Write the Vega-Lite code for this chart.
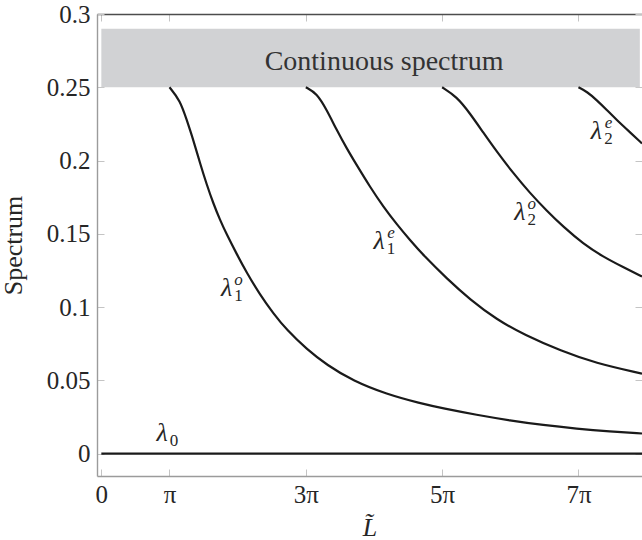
{
  "$schema": "https://vega.github.io/schema/vega-lite/v6.json",
  "width": 545,
  "height": 462,
  "autosize": {"type": "none"},
  "padding": {"left": 97, "top": 14, "right": 0, "bottom": 64},
  "background": "white",
  "config": {
    "view": {"stroke": null},
    "font": "Liberation Serif",
    "axis": {
      "labelFont": "Liberation Serif",
      "titleFont": "Liberation Serif",
      "labelFontSize": 25,
      "titleFontSize": 26,
      "titleFontWeight": "normal",
      "labelColor": "#262626",
      "titleColor": "#262626",
      "tickColor": "#c4c4c4",
      "tickSize": -7,
      "tickWidth": 1,
      "grid": false,
      "domainColor": "#9b9b9b",
      "domainWidth": 1.4
    }
  },
  "datasets": {
    "band": [{"x0": 0, "x1": 24.82, "y0": 0.25, "y1": 0.29, "text": "Continuous spectrum", "tx": 13.03, "ty": 0.2618}],
    "ground": [{"L": 0, "value": 0}, {"L": 24.92, "value": 0}],
    "branches": [
      {"branch": "l1o", "L": 3.1416, "value": 0.25},
      {"branch": "l1o", "L": 3.63, "value": 0.2411},
      {"branch": "l1o", "L": 3.94, "value": 0.2275},
      {"branch": "l1o", "L": 4.24, "value": 0.214},
      {"branch": "l1o", "L": 4.55, "value": 0.1981},
      {"branch": "l1o", "L": 4.86, "value": 0.1835},
      {"branch": "l1o", "L": 5.16, "value": 0.1708},
      {"branch": "l1o", "L": 5.47, "value": 0.1594},
      {"branch": "l1o", "L": 5.78, "value": 0.1495},
      {"branch": "l1o", "L": 6.24, "value": 0.1362},
      {"branch": "l1o", "L": 6.7, "value": 0.1235},
      {"branch": "l1o", "L": 7.31, "value": 0.1085},
      {"branch": "l1o", "L": 7.93, "value": 0.0956},
      {"branch": "l1o", "L": 8.54, "value": 0.0845},
      {"branch": "l1o", "L": 9.47, "value": 0.0712},
      {"branch": "l1o", "L": 10.39, "value": 0.0605},
      {"branch": "l1o", "L": 11.61, "value": 0.0495},
      {"branch": "l1o", "L": 13.15, "value": 0.0405},
      {"branch": "l1o", "L": 14.69, "value": 0.0343},
      {"branch": "l1o", "L": 15.76, "value": 0.0308},
      {"branch": "l1o", "L": 17.3, "value": 0.0264},
      {"branch": "l1o", "L": 18.83, "value": 0.0226},
      {"branch": "l1o", "L": 20.37, "value": 0.0194},
      {"branch": "l1o", "L": 21.91, "value": 0.017},
      {"branch": "l1o", "L": 23.44, "value": 0.0151},
      {"branch": "l1o", "L": 24.92, "value": 0.0137},
      {"branch": "l1e", "L": 9.4248, "value": 0.25},
      {"branch": "l1e", "L": 9.93, "value": 0.2459},
      {"branch": "l1e", "L": 10.39, "value": 0.2345},
      {"branch": "l1e", "L": 10.85, "value": 0.2208},
      {"branch": "l1e", "L": 11.31, "value": 0.2083},
      {"branch": "l1e", "L": 11.77, "value": 0.1969},
      {"branch": "l1e", "L": 12.38, "value": 0.1821},
      {"branch": "l1e", "L": 13.0, "value": 0.1684},
      {"branch": "l1e", "L": 13.61, "value": 0.1566},
      {"branch": "l1e", "L": 14.23, "value": 0.1456},
      {"branch": "l1e", "L": 14.84, "value": 0.1354},
      {"branch": "l1e", "L": 15.92, "value": 0.1195},
      {"branch": "l1e", "L": 16.99, "value": 0.1052},
      {"branch": "l1e", "L": 18.22, "value": 0.0915},
      {"branch": "l1e", "L": 19.5, "value": 0.081},
      {"branch": "l1e", "L": 21.2, "value": 0.07},
      {"branch": "l1e", "L": 22.75, "value": 0.0618},
      {"branch": "l1e", "L": 24.92, "value": 0.0545},
      {"branch": "l2o", "L": 15.708, "value": 0.25},
      {"branch": "l2o", "L": 16.38, "value": 0.2436},
      {"branch": "l2o", "L": 16.99, "value": 0.2322},
      {"branch": "l2o", "L": 17.6, "value": 0.2192},
      {"branch": "l2o", "L": 18.22, "value": 0.2062},
      {"branch": "l2o", "L": 18.99, "value": 0.1913},
      {"branch": "l2o", "L": 19.75, "value": 0.1779},
      {"branch": "l2o", "L": 20.53, "value": 0.1657},
      {"branch": "l2o", "L": 21.29, "value": 0.1548},
      {"branch": "l2o", "L": 22.21, "value": 0.1432},
      {"branch": "l2o", "L": 23.13, "value": 0.1343},
      {"branch": "l2o", "L": 24.06, "value": 0.1272},
      {"branch": "l2o", "L": 24.92, "value": 0.1208},
      {"branch": "l2e", "L": 21.991, "value": 0.25},
      {"branch": "l2e", "L": 22.4, "value": 0.2468},
      {"branch": "l2e", "L": 22.83, "value": 0.2413},
      {"branch": "l2e", "L": 23.3, "value": 0.2345},
      {"branch": "l2e", "L": 23.75, "value": 0.2277},
      {"branch": "l2e", "L": 24.35, "value": 0.2195},
      {"branch": "l2e", "L": 24.92, "value": 0.2117}
    ],
    "labels": [
      {"L": 2.8, "value": 0.0139, "sym": "λ", "sub": "0", "sup": ""},
      {"L": 5.77, "value": 0.113, "sym": "λ", "sub": "1", "sup": "o"},
      {"L": 12.8, "value": 0.145, "sym": "λ", "sub": "1", "sup": "e"},
      {"L": 19.29, "value": 0.165, "sym": "λ", "sub": "2", "sup": "o"},
      {"L": 22.82, "value": 0.22, "sym": "λ", "sub": "2", "sup": "e"}
    ]
  },
  "resolve": {"axis": {"x": "independent", "y": "independent"}},
  "layer": [
    {
      "data": {"name": "band"},
      "mark": {"type": "rect", "fill": "#d1d2d4"},
      "encoding": {
        "x": {
          "field": "x0", "type": "quantitative",
          "scale": {"domain": [-0.2, 24.92], "nice": false, "zero": false},
          "axis": {
            "orient": "bottom",
            "values": [0, 3.14159265, 9.42477796, 15.70796327, 21.99114858],
            "labelExpr": "datum.value < 1 ? '0' : datum.value < 4 ? 'π' : datum.value < 10 ? '3π' : datum.value < 16 ? '5π' : '7π'",
            "labelPadding": 13,
            "title": "L̃",
            "titleFontStyle": "italic",
            "titleBaseline": "alphabetic",
            "titleY": 59
          }
        },
        "x2": {"field": "x1"},
        "y": {
          "field": "y0", "type": "quantitative",
          "scale": {"domain": [-0.0153, 0.3], "nice": false, "zero": false},
          "axis": {
            "orient": "left",
            "values": [0, 0.05, 0.1, 0.15, 0.2, 0.25, 0.3],
            "format": "~g",
            "labelPadding": 14,
            "title": "Spectrum",
            "titlePadding": 20
          }
        },
        "y2": {"field": "y1"}
      }
    },
    {
      "data": {"name": "band"},
      "mark": {"type": "text", "fontSize": 28, "color": "#333333", "align": "center", "baseline": "alphabetic", "font": "Liberation Serif"},
      "encoding": {
        "x": {"field": "tx", "type": "quantitative", "axis": null},
        "y": {"field": "ty", "type": "quantitative", "axis": null},
        "text": {"field": "text"}
      }
    },
    {
      "data": {"name": "ground"},
      "mark": {"type": "line", "color": "#1a1a1a", "strokeWidth": 2.4, "clip": true},
      "encoding": {
        "x": {
          "field": "L", "type": "quantitative",
          "axis": {
            "orient": "top",
            "values": [0, 3.14159265, 9.42477796, 15.70796327, 21.99114858],
            "labels": false,
            "title": null,
            "domainColor": "#4d4d4d"
          }
        },
        "y": {
          "field": "value", "type": "quantitative",
          "axis": {
            "orient": "right",
            "values": [0, 0.05, 0.1, 0.15, 0.2, 0.25, 0.3],
            "labels": false,
            "title": null,
            "domain": false
          }
        }
      }
    },
    {
      "data": {"name": "branches"},
      "mark": {"type": "line", "color": "#1a1a1a", "strokeWidth": 2.2, "interpolate": "basis", "clip": true},
      "encoding": {
        "x": {"field": "L", "type": "quantitative", "axis": null},
        "y": {"field": "value", "type": "quantitative", "axis": null},
        "detail": {"field": "branch"}
      }
    },
    {
      "data": {"name": "labels"},
      "mark": {"type": "text", "fontSize": 26, "fontStyle": "italic", "color": "#262626", "align": "center", "baseline": "middle", "font": "Liberation Serif"},
      "encoding": {
        "x": {"field": "L", "type": "quantitative", "axis": null},
        "y": {"field": "value", "type": "quantitative", "axis": null},
        "text": {"field": "sym"}
      }
    },
    {
      "data": {"name": "labels"},
      "mark": {"type": "text", "fontSize": 17, "color": "#262626", "align": "center", "baseline": "middle", "dx": 12, "dy": 8, "font": "Liberation Serif"},
      "encoding": {
        "x": {"field": "L", "type": "quantitative", "axis": null},
        "y": {"field": "value", "type": "quantitative", "axis": null},
        "text": {"field": "sub"}
      }
    },
    {
      "data": {"name": "labels"},
      "mark": {"type": "text", "fontSize": 17, "fontStyle": "italic", "color": "#262626", "align": "center", "baseline": "middle", "dx": 12, "dy": -8, "font": "Liberation Serif"},
      "encoding": {
        "x": {"field": "L", "type": "quantitative", "axis": null},
        "y": {"field": "value", "type": "quantitative", "axis": null},
        "text": {"field": "sup"}
      }
    }
  ]
}
